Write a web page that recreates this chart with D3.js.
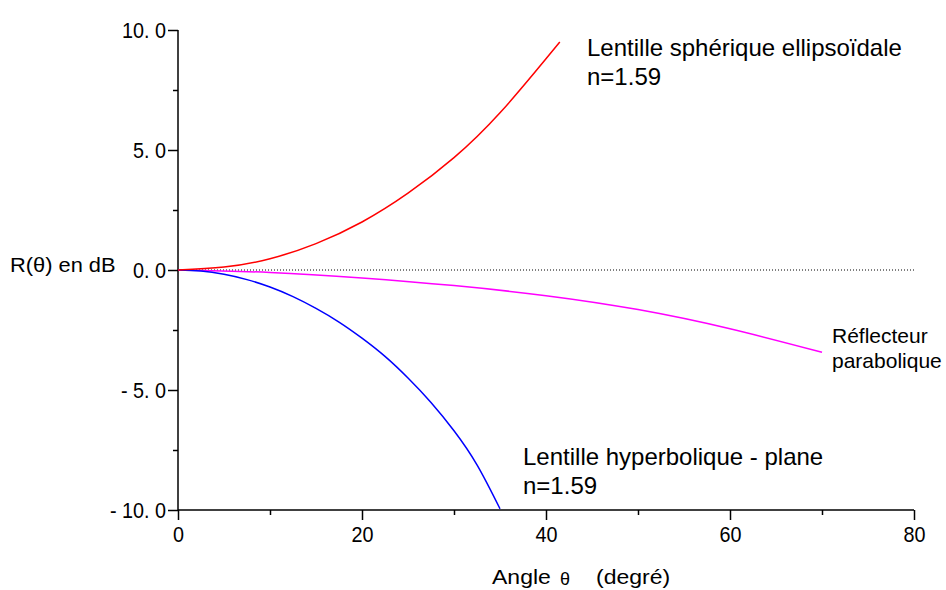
<!DOCTYPE html>
<html><head><meta charset="utf-8">
<script src="https://cdn.jsdelivr.net/npm/d3@7"></script>
<style>
body{margin:0;background:#fff;}
.tick text{font-family:"Liberation Sans",Arial,sans-serif;font-size:22px;fill:#000;}
.lbl{font-family:"Liberation Sans",Arial,sans-serif;fill:#000;}
</style></head>
<body><svg id="c" width="946" height="590"></svg>
<script>
// Data
const redAngles   = [0, 5, 10, 15, 20, 25, 30, 35, 40, 41.5];
const redValues   = [0, 0.12, 0.47, 1.1, 2.0, 3.2, 4.68, 6.55, 8.8, 9.5];
const blueAngles  = [0, 2.5, 5, 7.5, 10, 12.5, 15, 17.5, 20, 22.5, 25, 27.5, 30, 32.5, 35];
const blueValues  = [0, -0.044, -0.18, -0.4, -0.71, -1.11, -1.6, -2.17, -2.84, -3.6, -4.5, -5.52, -6.7, -8.12, -9.95];
const magAngles   = [0, 10, 20, 30, 40, 50, 60, 70];
const magValues   = [0, -0.1, -0.33, -0.65, -1.07, -1.65, -2.45, -3.43];
const yTicks      = [10, 5, 0, -5, -10];
const yTickLabels = ["10. 0", "5. 0", "0. 0", "- 5. 0", "- 10. 0"];
const yMinor      = [7.5, 2.5, -2.5, -7.5];
const xTicks      = [0, 20, 40, 60, 80];
const xTickLabels = ["0", "20", "40", "60", "80"];
const xMinor      = [10, 30, 50, 70];

const svg = d3.select("#c");
const x = d3.scaleLinear().domain([0, 80]).range([178, 914]);
const y = d3.scaleLinear().domain([-10, 10]).range([510, 30]);
const sx = 0.9;

// y axis
const gy = svg.append("g").attr("transform", `translate(${x(0)},0)`);
gy.call(d3.axisLeft(y).tickValues(yTicks).tickSize(10).tickPadding(2)
  .tickFormat((d,i) => yTickLabels[i]));
gy.select(".domain").attr("d", `M0,${y(10)}V${y(-10)}`);
gy.selectAll(".tick text").attr("x", -12 / sx).attr("transform", `scale(${sx},1)`);
svg.append("g").attr("transform", `translate(${x(0)},0)`)
  .call(d3.axisLeft(y).tickValues(yMinor).tickSize(5).tickFormat(""))
  .select(".domain").remove();

// x axis
const gx = svg.append("g").attr("transform", `translate(0,${y(-10)})`);
gx.call(d3.axisBottom(x).tickValues(xTicks).tickSize(10).tickPadding(6)
  .tickFormat((d,i) => xTickLabels[i]));
gx.select(".domain").attr("d", `M${x(0)},0H${x(80)}`);
gx.selectAll(".tick text").attr("transform", `scale(${sx},1)`);
svg.append("g").attr("transform", `translate(0,${y(-10)})`)
  .call(d3.axisBottom(x).tickValues(xMinor).tickSize(5).tickFormat(""))
  .select(".domain").remove();
svg.selectAll(".domain, .tick line").attr("stroke", "#000").attr("stroke-width", 1.5);

// zero dotted line
svg.append("line").attr("x1", x(0)).attr("x2", x(80)).attr("y1", y(0)).attr("y2", y(0))
  .attr("stroke", "#000").attr("stroke-width", 1).attr("stroke-dasharray", "1,2");

const line = d3.line().x(d => x(d[0])).y(d => y(d[1])).curve(d3.curveNatural);
function draw(a, v, col) {
  svg.append("path").datum(a.map((t,i) => [t, v[i]]))
    .attr("d", line).attr("fill", "none").attr("stroke", col).attr("stroke-width", 1.5);
}
draw(magAngles, magValues, "#ff00ff");
draw(blueAngles, blueValues, "#0000ff");
draw(redAngles, redValues, "#ff0000");

// labels
function txt(s, px, py, size, scx, fam) {
  const t = svg.append("text").attr("class", "lbl")
    .attr("transform", `translate(${px},${py}) scale(${scx || 1},1)`)
    .attr("font-size", size).text(s);
  if (fam) t.attr("font-family", fam);
  return t;
}
txt("Lentille sphérique ellipsoïdale", 587, 56, 24);
txt("n=1.59", 587, 85, 24);
txt("Lentille hyperbolique - plane", 523, 465, 24);
txt("n=1.59", 523, 494, 24);
txt("Réflecteur", 832, 343, 21);
txt("parabolique", 832, 368, 21);

txt("R(θ) en dB", 10, 272, 21, 1.04);

txt("Angle", 492, 584, 20, 1.15);
txt("θ", 560, 585, 18, 1.0, "'Liberation Serif',serif");
txt("(degré)", 596, 584, 20, 1.15);
</script></body></html>
